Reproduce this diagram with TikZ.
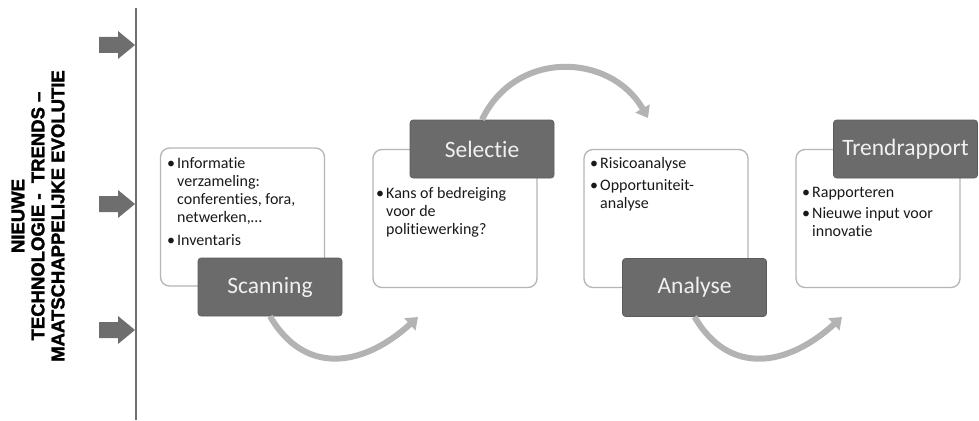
\documentclass[tikz,border=0pt]{standalone}
\usepackage{fontspec}
\setmainfont{Carlito}[Ligatures=NoCommon]
\font\sidefontraw="Liberation Sans/B:embolden=1.8" at 18.5pt
\usetikzlibrary{arrows.meta}
\definecolor{darkbox}{HTML}{6B6B6B}
\definecolor{boxline}{HTML}{B5B5B5}
\definecolor{curvecol}{HTML}{B3B3B3}
\definecolor{axiscol}{HTML}{6E6E6E}
\newcommand\bulletmark{\makebox[10pt][l]{•}}
\begin{document}
\begin{tikzpicture}[x=1pt,y=-1pt,
  contentbox/.style={draw=boxline, line width=1.3pt, rounded corners=9pt, fill=white,
    minimum width=164pt, minimum height=138pt, inner sep=0pt},
  stagebox/.style={fill=darkbox, draw=darkbox!85!black, line width=0.6pt, rounded corners=3pt,
    minimum width=144pt, minimum height=58pt, inner sep=0pt, text=white!94!black,
    font=\fontsize{23.5}{26}\selectfont},
  bullets/.style={anchor=north west, inner sep=0pt, font=\fontsize{16}{18.3}\selectfont, text=black!90},
  flow/.style={draw=curvecol, line width=6pt, -{Triangle[length=11pt,width=16pt]}},
  sidearrow/.style={fill=axiscol, draw=none}]
\useasboundingbox (0,0) rectangle (979,420);

% side label
\node[rotate=90, font=\fontsize{18.5}{20}\selectfont\sidefontraw, align=center, inner sep=0pt]
  (side) at (38,216) {NIEUWE\\TECHNOLOGIE -~~TRENDS –\\MAATSCHAPPELIJKE EVOLUTIE};

% time axis
\coordinate (axtop) at (136,8);
\coordinate (axbot) at (136,420);
\draw[axiscol, line width=2pt] (axtop) -- (axbot);
\foreach \yy in {45,204,330}{
  \fill[sidearrow] (99,{\yy-8}) -- (118,{\yy-8}) -- (118,{\yy-14}) -- (135,\yy)
     -- (118,{\yy+14}) -- (118,{\yy+8}) -- (99,{\yy+8}) -- cycle;
}

% content boxes
\node[contentbox] (c1) at (242.5,217) {};
\node[contentbox] (c2) at (455,218.5) {};
\node[contentbox] (c3) at (666,218.5) {};
\node[contentbox] (c4) at (878,218.5) {};

\node[bullets] (t1) at (167,155) {\begin{tabular}{@{}l@{}l@{}}
\bulletmark & Informatie\\
 & verzameling:\\
 & conferenties, fora,\\
 & netwerken,…\\[4pt]
\bulletmark & Inventaris
\end{tabular}};
\node[bullets] (t2) at (376,185) {\begin{tabular}{@{}l@{}l@{}}
\bulletmark & Kans of bedreiging\\
 & voor de\\
 & politiewerking?
\end{tabular}};
\node[bullets] (t3) at (590,155) {\begin{tabular}{@{}l@{}l@{}}
\bulletmark & Risicoanalyse\\[4pt]
\bulletmark & Opportuniteit-\\
 & analyse
\end{tabular}};
\node[bullets] (t4) at (802,184) {\begin{tabular}{@{}l@{}l@{}}
\bulletmark & Rapporteren\\[3pt]
\bulletmark & Nieuwe input voor\\
 & innovatie
\end{tabular}};

% stage boxes
\node[stagebox] (scan) at (270,287) {Scanning};
\node[stagebox] (sel) at (482,149) {Selectie};
\node[stagebox] (ana) at (694.5,287.5) {Analyse};
\node[stagebox] (trend) at (905.5,149) {Trendrapport};

% flow arrows
\coordinate (e1) at (418,317);
\coordinate (e2) at (648,118);
\coordinate (e3) at (842,317);
\draw[flow] (scan.south) .. controls (305,376) and (363,367) .. (e1);
\draw[flow] (sel.north) .. controls (515,50) and (610,52) .. (e2);
\draw[flow] (ana.south) .. controls (729,376) and (787,367) .. (e3);
\end{tikzpicture}
\end{document}
